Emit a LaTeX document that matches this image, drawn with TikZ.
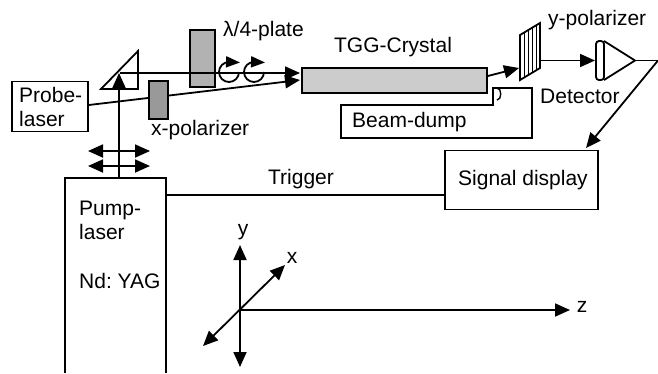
\documentclass[tikz,border=0pt]{standalone}
\usepackage{fontspec}
\setmainfont{Liberation Sans}
\usetikzlibrary{arrows.meta,calc}
\tikzset{
  ln/.style={line width=1.8pt,draw=black},
  arr/.style={ln,-{Triangle[length=15pt,width=13pt]}},
  barr/.style={ln,{Triangle[length=15pt,width=13pt]}-{Triangle[length=15pt,width=13pt]}},
  lbl/.style={font=\fontsize{21}{24}\selectfont\frenchspacing,inner sep=0pt,align=left},
  box/.style={ln,rectangle,inner sep=0pt,minimum width=#1},
}
\begin{document}
\begin{tikzpicture}[x=1pt,y=-1pt]
\useasboundingbox (0,0) rectangle (658,373);
\clip (0,0) rectangle (658,373);
% coordinates
\coordinate (pumpTL) at (65,178);
\coordinate (pumpTR) at (166,178);
\coordinate (pumpBL) at (65,373);
\coordinate (pumpBR) at (166,373);
\coordinate (pumpOut) at (119,178);
\coordinate (trigOut) at (166,195);
\coordinate (mirror) at (119,73);
\coordinate (beamStart) at (120,73);
\coordinate (probeEnd) at (300,80);
\coordinate (beamEnd) at (300,73);
% boxes
\node[box=76pt,minimum height=50pt,anchor=north west] (probe) at (11,80.5) {};
\node[box=185pt,minimum height=25pt,fill=black!20,anchor=north west] (crystal) at (301,67) {};
\node[box=153pt,minimum height=59pt,anchor=north west] (display) at (444,149.5) {};
% connectors under plates
\draw[ln] (pumpBL) -- (pumpTL) -- (pumpTR) -- (pumpBR);
\draw[arr] (probe.east |- 0,105) -- (probeEnd);
\node[box=25pt,minimum height=57pt,fill=black!30,anchor=north west] (lam) at (189,29) {};
\draw[arr] (beamStart) -- (beamEnd);
\draw[ln,line join=miter] (101,89) -- (138,51) -- (138,89) -- cycle;
\node[box=19pt,minimum height=38pt,fill=black!40,anchor=north west] (xpol) at (148,80) {};
\draw[arr] (pumpOut) -- (mirror);
\draw[barr] (88,151) -- (150,151);
\draw[barr] (88,166) -- (150,166);
% circular polarisation
\coordinate (c1) at (239,72);
\coordinate (c2) at (264,72);
\draw[ln,-{Triangle[length=14pt,width=11pt]}] (c1) arc[start angle=0,end angle=-270,radius=10pt] -- (240,62.5);
\draw[ln,-{Triangle[length=14pt,width=11pt]}] (c2) arc[start angle=0,end angle=-270,radius=10pt] -- (265,62.5);
% beam dump
\draw[ln] (493,105) -- (341,105) -- (341,138) -- (532,138) -- (532,88) -- (493,88) -- cycle;
\draw[line width=1.4pt] (497,88) .. controls (502,88) and (502,100) .. (497,100);
% y polarizer
\coordinate (yp1) at (520,35);
\coordinate (yp2) at (540,23);
\coordinate (yp3) at (540,68);
\coordinate (yp4) at (520,80);
\foreach \t in {0.2,0.4,0.6,0.8}
  \draw[line width=0.9pt] ($(yp1)!\t!(yp2)$) -- ($(yp4)!\t!(yp3)$);
\draw[ln] (yp1) -- (yp2) -- (yp3) -- (yp4) -- cycle;
\draw[arr] (crystal.east |- 0,76) -- (519,68);
% detector
\coordinate (dtip) at (635,60.5);
\draw[ln,rounded corners=3pt] (604,41) rectangle (596,80);
\draw[ln] (604,41) -- (dtip) -- (604,80);
\draw[arr] (540,60.5) -- (595,60.5);
\coordinate (dcorner) at (658,60.5);
\draw[ln,line join=bevel] (dtip) -- (dcorner);
\draw[arr] (dcorner) -- (586,148);
% trigger
\draw[ln,line width=1.4pt] (trigOut) -- (display.west |- 0,195);
% axes
\coordinate (o) at (240,310);
\draw[barr] (240,245) -- (240,367);
\draw[barr] (285,265) -- (203,346);
\draw[arr] (o) -- (570,310);
% labels
\node[lbl,anchor=west] (tprobe) at (19,107) {Probe-\\laser};
\node[lbl,anchor=west] (tx) at (151,130) {x-polarizer};
\node[lbl,anchor=west] (tl) at (223,31) {λ/4-plate};
\node[lbl] (ttgg) at (393,47) {TGG-Crystal};
\node[lbl,anchor=west] (ty) at (548,20) {y-polarizer};
\node[lbl,anchor=west] (tdet) at (540,96) {Detector};
\node[lbl,anchor=west] (tbd) at (352,122) {Beam-dump};
\node[lbl] (tsig) at (523,180) {Signal display};
\node[lbl] (ttrig) at (301,179) {Trigger};
\node[lbl,anchor=west] (tpump) at (79,220) {Pump-\\laser};
\node[lbl,anchor=west] (tnd) at (79,281) {Nd: YAG};
\node[lbl] (ay) at (243,232) {y};
\node[lbl] (ax) at (292,258) {x};
\node[lbl] (az) at (582,307) {z};
\end{tikzpicture}
\end{document}
